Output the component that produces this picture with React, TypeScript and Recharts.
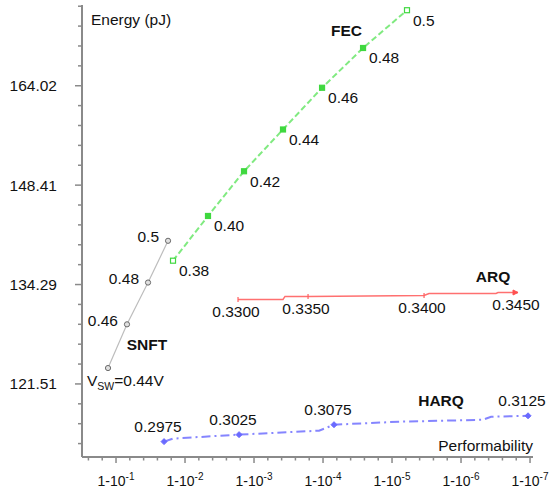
import React from 'react';
import { ScatterChart, Scatter, XAxis, YAxis, ReferenceDot, Label } from 'recharts';

const FONT = '"Liberation Sans", Arial, Helvetica, sans-serif';
const FS = 15.5;
const TXT = '#111';

// x = number of nines of performability: -log10(1 - P); y = energy in pJ
const snftNines = [0.884, 1.159, 1.464, 1.754];
const snftEnergy = [123.47, 129.02, 134.56, 140.33];
const snftLabels = ['V_SW=0.44V', '0.46', '0.48', '0.5'];

const fecNines = [1.826, 2.333, 2.855, 3.42, 3.986, 4.58, 5.217];
const fecEnergy = [137.55, 143.88, 150.5, 156.96, 163.69, 170.37, 176.97];
const fecLabels = ['0.38', '0.40', '0.42', '0.44', '0.46', '0.48', '0.5'];

const arqNines = [2.768, 3.42, 3.449, 3.783, 5.464, 5.536, 6.507, 6.536, 6.826];
const arqEnergy = [132.29, 132.29, 132.69, 132.69, 132.82, 133.08, 133.08, 133.22, 133.22];
const arqLabels = ['0.3300', '', '', '0.3350', '0.3400', '', '', '', '0.3450'];

const harqNines = [1.696, 1.826, 2.783, 3.942, 4.159, 5.101, 6.319, 6.435, 6.971];
const harqEnergy = [114.66, 115.01, 115.47, 115.93, 116.63, 116.98, 117.21, 117.57, 117.68];
const harqLabels = ['0.2975', '', '0.3025', '', '0.3075', '', '', '', '0.3125'];

const seriesNames = ['SNFT', 'FEC', 'ARQ', 'HARQ'];
const nameNines = [1.449, 4.341, 6.464, 5.71];
const nameEnergy = [126.47, 173.47, 135.37, 119.46];

const yMajorValues = [121.51, 134.29, 148.41, 164.02];
const yMajorLabels = ['121.51', '134.29', '148.41', '164.02'];
const xMajorExponents = [1, 2, 3, 4, 5, 6, 7];

const yDomainEnergy = [112.9, 177.9];
const xDomain = [0.507, 7.043];

const yMajorLn = yMajorValues.map((v) => Math.log(v));
const yTicks: number[] = [];
for (let i = 0; i <= 22; i++) yTicks.push(Math.round((4.74 + 0.02 * i) * 10000) / 10000);
const xTicks: number[] = [];
for (let i = 0; i <= 32; i++) xTicks.push(Math.round((0.6 + 0.2 * i) * 1000) / 1000);

const toRows = (nines: number[], energy: number[], labels: string[]) =>
  nines.map((n, i) => ({ x: n, y: Math.log(energy[i]), label: labels[i], idx: i, count: nines.length }));

const snftRows = toRows(snftNines, snftEnergy, snftLabels);
const fecRows = toRows(fecNines, fecEnergy, fecLabels);
const arqRows = toRows(arqNines, arqEnergy, arqLabels);
const harqRows = toRows(harqNines, harqEnergy, harqLabels);

const XTick = (props: any) => {
  const { x, y, payload } = props;
  const v = payload.value;
  const k = Math.round(v);
  const major = Math.abs(v - k) < 1e-6 && xMajorExponents.includes(k);
  return (
    <g>
      <line x1={x} x2={x} y1={y} y2={y + (major ? 6 : 3.5)} stroke="#8a8a8a" strokeWidth={1.5} />
      {major && (
        <text x={x} y={y + 29} textAnchor="middle" fontSize={14} fill={TXT} fontFamily={FONT}>
          1-10
          <tspan fontSize={10} dy={-6}>
            -{k}
          </tspan>
        </text>
      )}
    </g>
  );
};

const YTick = (props: any) => {
  const { x, y, payload } = props;
  const v = payload.value;
  const mi = yMajorLn.findIndex((m) => Math.abs(m - v) < 1e-3);
  const major = mi >= 0;
  return (
    <g>
      <line x1={x - (major ? 7 : 4)} x2={x} y1={y} y2={y} stroke="#8a8a8a" strokeWidth={1.5} />
      {major && (
        <text x={x - 25} y={y + 5.5} textAnchor="end" fontSize={FS} fill={TXT} fontFamily={FONT}>
          {yMajorLabels[mi]}
        </text>
      )}
    </g>
  );
};

const labelText = (x: number, y: number, anchor: string, text: string) => (
  <text x={x} y={y} textAnchor={anchor} fontSize={FS} fill={TXT} fontFamily={FONT}>
    {text}
  </text>
);

const snftShape = (props: any) => {
  const { cx, cy, payload } = props;
  const isFirst = payload.idx === 0;
  return (
    <g>
      <circle cx={cx} cy={cy} r={2.6} fill="#e0e0e0" stroke="#6a6a6a" strokeWidth={1} />
      {isFirst ? (
        <text x={cx - 21} y={cy + 18} fontSize={FS} fill={TXT} fontFamily={FONT}>
          V<tspan fontSize={10.5} dy={4}>SW</tspan>
          <tspan dy={-4}>=0.44V</tspan>
        </text>
      ) : (
        labelText(cx - 9, cy + 1.5, 'end', payload.label)
      )}
    </g>
  );
};

const fecShape = (props: any) => {
  const { cx, cy, payload } = props;
  const hollow = payload.idx === 0 || payload.idx === payload.count - 1;
  return (
    <g>
      <rect x={cx - 2.5} y={cy - 2.5} width={5} height={5} fill={hollow ? '#ffffff' : '#3fd83f'} stroke="#3fd83f" strokeWidth={1.2} />
      {labelText(cx + 6, cy + 15.5, 'start', payload.label)}
    </g>
  );
};

const arqShape = (props: any) => {
  const { cx, cy, payload } = props;
  if (!payload.label) return <g />;
  const isLast = payload.idx === payload.count - 1;
  return (
    <g>
      {isLast ? (
        <path d={`M${cx - 5},${cy - 2.5} L${cx},${cy} L${cx - 5},${cy + 2.5} Z`} fill="#ff5050" stroke="#ff5050" strokeWidth={1} />
      ) : (
        <line x1={cx} x2={cx} y1={cy - 2.5} y2={cy + 2.5} stroke="#ff6060" strokeWidth={1.2} />
      )}
      {labelText(cx - 2, cy + 17.5, 'middle', payload.label)}
    </g>
  );
};

const harqShape = (props: any) => {
  const { cx, cy, payload } = props;
  if (!payload.label) return <g />;
  return (
    <g>
      <path d={`M${cx - 3},${cy} L${cx},${cy - 3} L${cx + 3},${cy} L${cx},${cy + 3} Z`} fill="#6a6aff" stroke="#6a6aff" />
      {labelText(cx - 6, cy - 9.5, 'middle', payload.label)}
    </g>
  );
};

const nameShape = (text: string) => (props: any) => {
  const { cx, cy } = props;
  return (
    <text x={cx} y={cy + 5.5} textAnchor="middle" fontSize={FS} fontWeight="bold" fill={TXT} fontFamily={FONT}>
      {text}
    </text>
  );
};

const XTitle = (props: any) => {
  const vb = props.viewBox || { x: 82, y: 457, width: 451 };
  return (
    <text x={vb.x + vb.width} y={vb.y - 6} textAnchor="end" fontSize={FS} fill={TXT} fontFamily={FONT}>
      Performability
    </text>
  );
};

const YTitle = (props: any) => {
  const vb = props.viewBox || { x: 0, y: 5, width: 82 };
  return (
    <text x={vb.x + vb.width + 9} y={vb.y + 20} textAnchor="start" fontSize={FS} fill={TXT} fontFamily={FONT}>
      Energy (pJ)
    </text>
  );
};

export default function App() {
  return (
    <div style={{ position: 'absolute', left: 0, top: 0, width: 553, height: 493, background: '#fff' }}>
      <ScatterChart width={553} height={493} margin={{ top: 5, right: 20, bottom: 0, left: 0 }} style={{ fontFamily: FONT }}>
        <XAxis
          type="number"
          dataKey="x"
          domain={xDomain}
          ticks={xTicks}
          interval={0}
          tickSize={0}
          tickMargin={0}
          height={36}
          tick={<XTick />}
          axisLine={{ stroke: '#8a8a8a', strokeWidth: 2 }}
          tickLine={false}
        >
          <Label content={<XTitle />} />
        </XAxis>
        <YAxis
          type="number"
          dataKey="y"
          domain={[Math.log(yDomainEnergy[0]), Math.log(yDomainEnergy[1])]}
          ticks={yTicks}
          interval={0}
          tickSize={0}
          tickMargin={0}
          width={82}
          tick={<YTick />}
          axisLine={{ stroke: '#8a8a8a', strokeWidth: 2 }}
          tickLine={false}
        >
          <Label content={<YTitle />} />
        </YAxis>
        <Scatter
          data={snftRows}
          line={{ stroke: '#bdbdbd', strokeWidth: 1.2 }}
          shape={snftShape}
          isAnimationActive={false}
        />
        <Scatter
          data={fecRows}
          line={{ stroke: '#80ea80', strokeWidth: 2, strokeDasharray: '6 3' }}
          shape={fecShape}
          isAnimationActive={false}
        />
        <Scatter
          data={arqRows}
          line={{ stroke: '#ff7070', strokeWidth: 1.5 }}
          shape={arqShape}
          isAnimationActive={false}
        />
        <Scatter
          data={harqRows}
          line={{ stroke: '#8585ff', strokeWidth: 2, strokeDasharray: '9 4 2 4' }}
          shape={harqShape}
          isAnimationActive={false}
        />
        {seriesNames.map((n, i) => (
          <ReferenceDot key={n} x={nameNines[i]} y={Math.log(nameEnergy[i])} r={0} shape={nameShape(n)} ifOverflow="visible" />
        ))}
      </ScatterChart>
    </div>
  );
}
